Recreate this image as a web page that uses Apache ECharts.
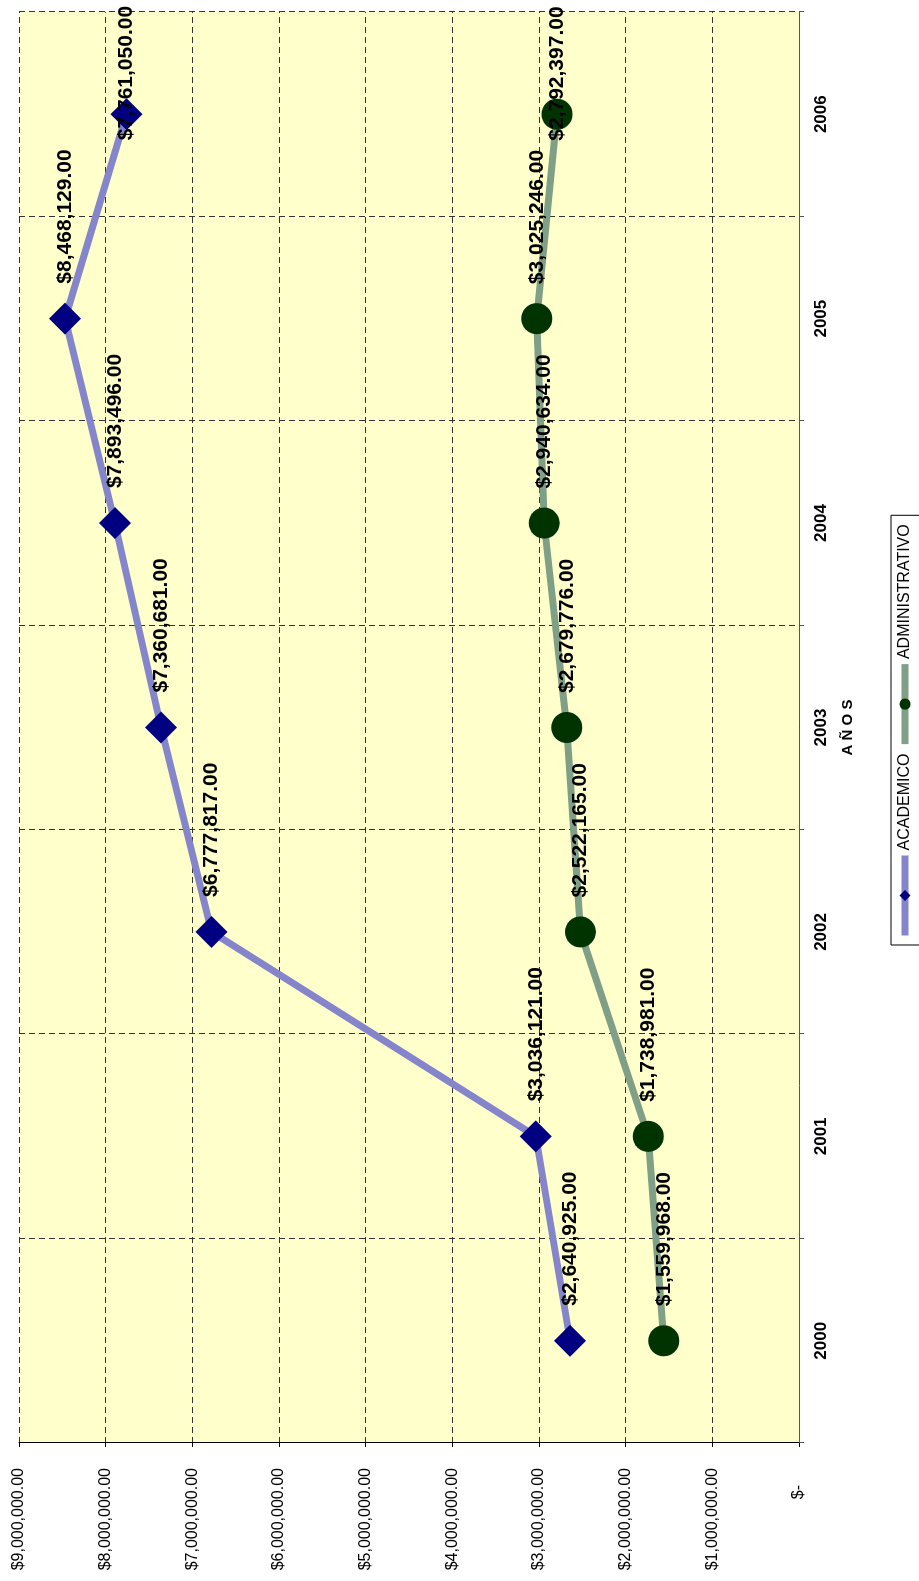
<!DOCTYPE html>
<html>
<head>
<meta charset="utf-8">
<script src="https://cdn.jsdelivr.net/npm/echarts@6/dist/echarts.min.js"></script>
<style>
  html, body { margin: 0; padding: 0; background: #ffffff; overflow: hidden; width: 919px; height: 1581px; }
  /* The chart is laid out landscape and turned a quarter turn counter-clockwise onto the portrait page */
  #chart {
    position: absolute; left: 0; top: 0;
    width: 1581px; height: 919px;
    transform-origin: 0 0;
    transform: translateY(1581px) rotate(-90deg);
  }
</style>
</head>
<body>
<div id="chart"></div>
<script>
// Budget per year, in pesos
const years = ['2000', '2001', '2002', '2003', '2004', '2005', '2006'];
const academico = [2640925, 3036121, 6777817, 7360681, 7893496, 8468129, 7761050];
const administrativo = [1559968, 1738981, 2522165, 2679776, 2940634, 3025246, 2792397];

const valueMin = 0;
const valueMax = 9000000;
const valueStep = 1000000;

const FONT = 'Arial, "Liberation Sans", sans-serif';

function money(v) {
  return '$' + Number(v).toLocaleString('en-US', { minimumFractionDigits: 2, maximumFractionDigits: 2 });
}

// The last point's label is pulled back so it stays inside the chart
function seriesData(values) {
  return values.map(function (v, i) {
    if (i === values.length - 1) {
      return { value: v, label: { offset: [-61, 0] } };
    }
    return v;
  });
}

const pointLabel = {
  show: true,
  position: 'right',
  distance: 19,
  color: '#000000',
  fontFamily: FONT,
  fontWeight: 'bold',
  fontSize: 21,
  formatter: function (p) { return money(p.value); }
};

const chart = echarts.init(document.getElementById('chart'), null, { renderer: 'canvas', width: 1581, height: 919 });

chart.setOption({
  backgroundColor: '#ffffff',
  animation: false,
  grid: {
    show: true,
    left: 138,
    right: 12,
    top: 19,
    bottom: 120,
    backgroundColor: '#FFFFCC',
    borderWidth: 0,
    containLabel: false
  },
  legend: {
    left: 636,
    top: 891,
    orient: 'horizontal',
    padding: [6, 9, 12, 6],
    itemWidth: 80,
    itemHeight: 14,
    itemGap: 6,
    borderColor: '#000000',
    borderWidth: 1,
    backgroundColor: '#ffffff',
    lineStyle: { width: 7 },
    textStyle: { color: '#000000', fontFamily: FONT, fontSize: 16 },
    data: ['ACADEMICO', 'ADMINISTRATIVO']
  },
  xAxis: {
    type: 'category',
    data: years,
    boundaryGap: true,
    name: 'A Ñ O S',
    nameLocation: 'middle',
    nameGap: 41,
    nameTextStyle: { color: '#000000', fontFamily: FONT, fontWeight: 'bold', fontSize: 15 },
    axisLine: { show: true, lineStyle: { color: '#555555', width: 1 } },
    axisTick: { show: true, inside: false, length: 5, lineStyle: { color: '#555555' } },
    axisLabel: { color: '#000000', fontFamily: FONT, fontWeight: 'bold', fontSize: 17, margin: 14 },
    splitLine: { show: true, lineStyle: { color: '#333333', width: 1, type: [6, 4] } }
  },
  yAxis: {
    type: 'value',
    min: valueMin,
    max: valueMax,
    interval: valueStep,
    axisLine: { show: true, lineStyle: { color: '#000000', width: 1 } },
    axisTick: { show: true, inside: false, length: 4, lineStyle: { color: '#000000' } },
    axisLabel: {
      color: '#000000',
      fontFamily: FONT,
      fontSize: 16,
      margin: 25,
      formatter: function (v) { return v === 0 ? '{z|$-}' : money(v); },
      rich: { z: { color: '#000000', fontFamily: FONT, fontSize: 16, padding: [0, 17, 0, 0] } }
    },
    splitLine: { show: true, lineStyle: { color: '#333333', width: 1, type: [6, 4] } }
  },
  series: [
    {
      name: 'ACADEMICO',
      type: 'line',
      data: seriesData(academico),
      symbol: 'diamond',
      symbolSize: 32,
      showAllSymbol: true,
      lineStyle: { color: '#8585CC', width: 7 },
      itemStyle: { color: '#000080' },
      label: pointLabel,
      z: 3
    },
    {
      name: 'ADMINISTRATIVO',
      type: 'line',
      data: seriesData(administrativo),
      symbol: 'circle',
      symbolSize: 31,
      showAllSymbol: true,
      lineStyle: { color: '#7F9F86', width: 7 },
      itemStyle: { color: '#003300' },
      label: pointLabel,
      z: 3
    }
  ]
});
</script>
</body>
</html>
